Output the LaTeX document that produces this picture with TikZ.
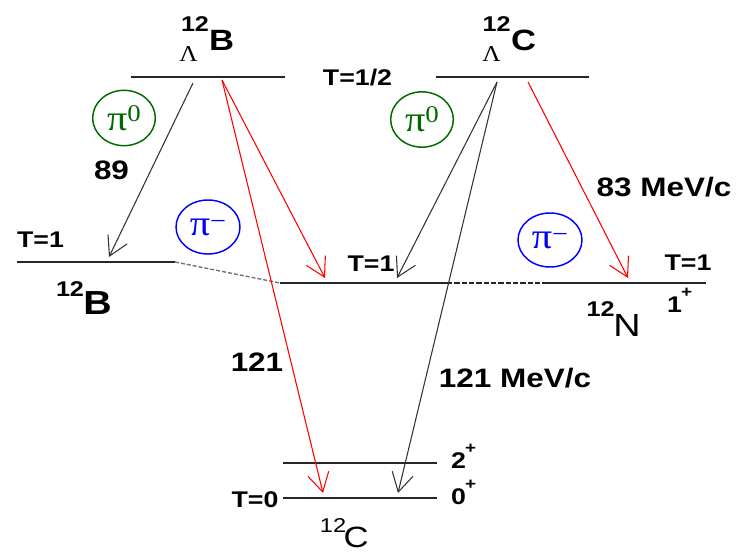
\documentclass[tikz,border=0pt]{standalone}
\usepackage{fontspec}
\usepackage{graphicx}
\usetikzlibrary{arrows.meta,shapes.geometric}
\newfontfamily\sfx[FakeStretch=1.18]{Liberation Sans}
\newfontfamily\rmx[FakeStretch=1.12]{Liberation Serif}
\definecolor{pigreen}{RGB}{0,105,0}
\definecolor{piblue}{RGB}{0,0,255}
\definecolor{arrred}{RGB}{255,0,0}
\definecolor{dashgray}{RGB}{110,110,110}
\newcommand\fsz[1]{\fontsize{#1}{#1}\selectfont}
\begin{document}
\begin{tikzpicture}[x=0.75pt,y=-0.75pt,
  lab/.style={inner sep=0pt,outer sep=0pt,anchor=base},
  tbold/.style={lab,font=\sfx\bfseries\fsz{17}},
  energy/.style={lab,font=\sfx\bfseries\fsz{20}},
  nucbig/.style={lab,font=\sfx\bfseries\fsz{22}},
  nucsup/.style={lab,font=\sfx\bfseries\fsz{16}},
  lam/.style={lab,font=\rmx\fsz{17}},
  spin/.style={inner sep=0pt,outer sep=0pt,anchor=base west,font=\sfx\bfseries\fsz{17}},
  level/.style={line width=1.3pt,black!85},
  trans/.style={line width=0.8pt,-{Straight Barb[length=14pt,width=16pt,line width=0.8pt]}},
  ptrans/.style={trans,black!80},
  rtrans/.style={trans,arrred},
  pizero/.style={ellipse,draw=pigreen,line width=1.1pt,minimum width=47pt,minimum height=41.5pt,inner sep=0pt,text=pigreen,font=\rmx\fsz{27}},
  piminus/.style={ellipse,draw=piblue,line width=1.1pt,minimum width=48pt,minimum height=40.5pt,inner sep=0pt,text=piblue,font=\rmx\fsz{27}}
]
\useasboundingbox (0,0) rectangle (741,556);

% ---- level end points
\coordinate (tlA) at (131,77);  \coordinate (tlB) at (285,77);
\coordinate (trA) at (436,77);  \coordinate (trB) at (589,77);
\coordinate (bA) at (17,262);   \coordinate (bB) at (175,262);
\coordinate (mA) at (280,283);  \coordinate (mB) at (447,283);
\coordinate (mC) at (548,283);  \coordinate (mD) at (706,283);
\coordinate (c2A) at (283,463); \coordinate (c2B) at (437,463);
\coordinate (c0A) at (283,498); \coordinate (c0B) at (437,498);

% ---- levels
\draw[level] (tlA) -- (tlB);
\draw[level] (trA) -- (trB);
\draw[level] (bA) -- (bB);
\draw[level] (mA) -- (mB);
\draw[level,dashed,dash pattern=on 4pt off 1.5pt] (mB) -- (mC);
\draw[level] (mC) -- (mD);
\draw[level] (c2A) -- (c2B);
\draw[level] (c0A) -- (c0B);
\draw[dashgray,line width=1pt,dash pattern=on 3pt off 1.5pt] (bB) -- (mA);

% ---- transition end points
\coordinate (sL1) at (193,83);  \coordinate (eL1) at (109,257);
\coordinate (sL2) at (222,80);  \coordinate (eL2) at (325,278);
\coordinate (eL3) at (323,493);
\coordinate (sR1) at (497,82);  \coordinate (eR1) at (397,278);
\coordinate (eR2) at (398,493);
\coordinate (sR3) at (528,82);  \coordinate (eR3) at (628,278);

% ---- transitions
\draw[ptrans] (sL1) -- (eL1);
\draw[rtrans] (sL2) -- (eL2);
\draw[rtrans] (sL2) -- (eL3);
\draw[ptrans] (sR1) -- (eR1);
\draw[ptrans] (sR1) -- (eR2);
\draw[rtrans] (sR3) -- (eR3);

% ---- hypernuclei labels
\node[nucsup] (hbA) at (195,32) {12};
\node[nucbig] (hbB) at (221.5,51) {B};
\node[lam] (hbL) at (188.5,62) {Λ};
\node[nucsup] (hcA) at (496.5,32) {12};
\node[nucbig] (hcC) at (523.5,51) {C};
\node[lam] (hcL) at (491.5,62) {Λ};

\node[tbold] (thalf) at (357.5,86) {T=1/2};

% ---- pion ellipses
\node[pizero] (pz1) at (124,118) {π\raisebox{7pt}{\fsz{18}0}};
\node[pizero] (pz2) at (422,119.5) {π\raisebox{7pt}{\fsz{18}0}};
\node[piminus] (pm1) at (208,227) {π\raisebox{4pt}{\fsz{19}−}};
\node[piminus] (pm2) at (550,240) {π\raisebox{4pt}{\fsz{19}−}};

% ---- momenta
\node[energy] (m89) at (111.5,179) {89};
\node[energy] (m83) at (664,196) {83 MeV/c};
\node[energy] (m121a) at (257,371) {121};
\node[energy] (m121b) at (515,387) {121 MeV/c};

% ---- T labels
\node[tbold] (t1l) at (40.5,247) {T=1};
\node[tbold] (t1m) at (371,271) {T=1};
\node[tbold] (t1r) at (688,270) {T=1};
\node[tbold] (t0) at (255,507) {T=0};

% ---- daughter nuclei
\node[lab,font=\sfx\bfseries\fsz{16}] (dbA) at (70,296) {12};
\node[lab,font=\sfx\bfseries\fsz{25}] (dbB) at (97.5,314) {B};
\node[lab,font=\sfx\bfseries\fsz{16}] (dnA) at (600.5,316) {12};
\node[lab,font=\sfx\fsz{24}] (dnN) at (627,336) {N};
\node[lab,font=\sfx\fsz{15}] (dcA) at (333,532) {12};
\node[lab,font=\sfx\fsz{22}] (dcC) at (356,547) {C};

% ---- spins
\node[spin] (s1) at (667,312) {1\kern-0.5pt\raisebox{0.62em}{\fsz{12}+}};
\node[spin] (s2) at (451,468) {2\kern-0.5pt\raisebox{0.62em}{\fsz{12}+}};
\node[spin] (s0) at (451,504) {0\kern-0.5pt\raisebox{0.62em}{\fsz{12}+}};
\end{tikzpicture}
\end{document}
